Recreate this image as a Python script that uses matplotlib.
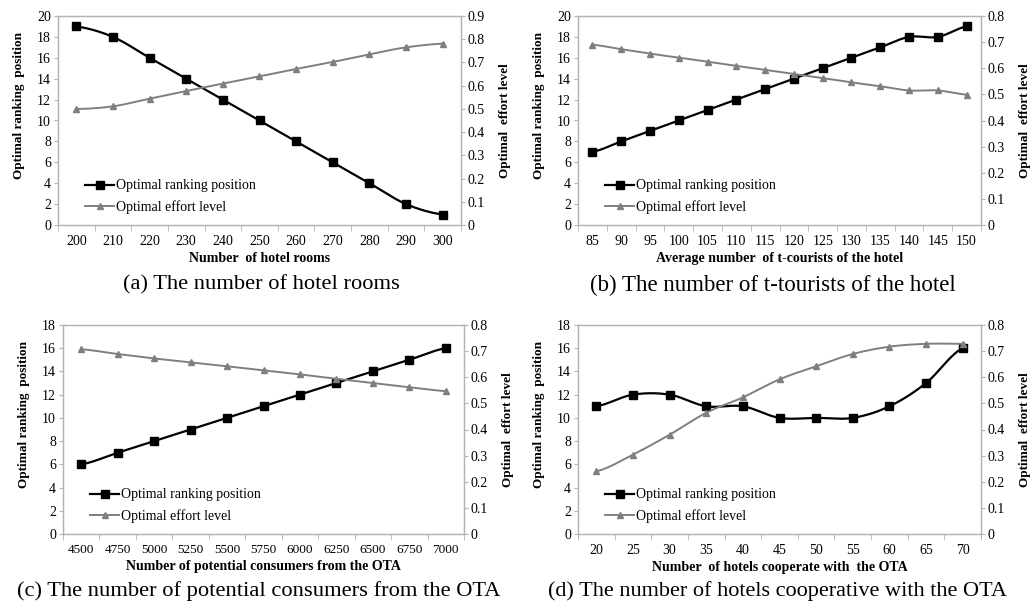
import numpy as np
import matplotlib
matplotlib.use("Agg")
import matplotlib.pyplot as plt
from matplotlib.ticker import FixedLocator, FuncFormatter

plt.rcParams['font.family'] = ['Liberation Serif', 'DejaVu Serif']

# ---- data ----
rooms = [200, 210, 220, 230, 240, 250, 260, 270, 280, 290, 300]
rooms_rank = [19, 18, 16, 14, 12, 10, 8, 6, 4, 2, 1]
rooms_effort = [0.499, 0.511, 0.544, 0.577, 0.609, 0.640, 0.672, 0.702, 0.735, 0.765, 0.781]

tourists = [85, 90, 95, 100, 105, 110, 115, 120, 125, 130, 135, 140, 145, 150]
tourists_rank = [7, 8, 9, 10, 11, 12, 13, 14, 15, 16, 17, 18, 18, 19]
tourists_effort = [0.690, 0.673, 0.656, 0.641, 0.625, 0.609, 0.594, 0.578, 0.562,
                   0.546, 0.531, 0.515, 0.515, 0.499]

consumers = [4500, 4750, 5000, 5250, 5500, 5750, 6000, 6250, 6500, 6750, 7000]
consumers_rank = [6, 7, 8, 9, 10, 11, 12, 13, 14, 15, 16]
consumers_effort = [0.707, 0.689, 0.672, 0.657, 0.642, 0.626, 0.611, 0.594, 0.578, 0.562, 0.547]

hotels = [20, 25, 30, 35, 40, 45, 50, 55, 60, 65, 70]
hotels_rank = [11, 12, 12, 11, 11, 10, 10, 10, 11, 13, 16]
hotels_effort = [0.240, 0.304, 0.380, 0.464, 0.523, 0.592, 0.642, 0.689, 0.717, 0.728, 0.728]

W, H = 1030, 606
BLACK = '#000000'
GRAY = '#7f7f7f'
SPINE = '#b4b4b4'


def smooth(y, n=20):
    # Catmull-Rom through the points (like Excel's smoothed line), index-based
    y = np.asarray(y, float)
    p = np.concatenate([[y[0]], y, [y[-1]]])
    xs, ys = [], []
    for i in range(len(y) - 1):
        p0, p1, p2, p3 = p[i], p[i + 1], p[i + 2], p[i + 3]
        t = np.linspace(0, 1, n, endpoint=False)
        yy = 0.5 * ((2 * p1) + (-p0 + p2) * t + (2 * p0 - 5 * p1 + 4 * p2 - p3) * t ** 2
                    + (-p0 + 3 * p1 - 3 * p2 + p3) * t ** 3)
        xs.append(i + t)
        ys.append(yy)
    xs.append([len(y) - 1])
    ys.append([y[-1]])
    return np.concatenate(xs), np.concatenate(ys)


def panel(box, cats, rank, effort, rmax, emax, xlabel, caption, cap_xy, cap_size, tick_size):
    l, t, r, b = box
    ax = fig.add_axes([l / W, 1 - b / H, (r - l) / W, (b - t) / H])
    ax2 = ax.twinx()
    idx = np.arange(len(cats))

    sx, sy = smooth(rank)
    ax.plot(sx, sy, color=BLACK, lw=1.6)
    ax.plot(idx, rank, 's', color=BLACK, ms=5.5)
    ex, ey = smooth(effort)
    ax2.plot(ex, ey, color=GRAY, lw=1.4)
    ax2.plot(idx, effort, '^', color=GRAY, ms=4.5)

    ax.set_xlim(-0.5, len(cats) - 0.5)
    ax.set_ylim(0, rmax)
    ax2.set_ylim(0, emax)
    ax.set_yticks(np.arange(0, rmax + 1, 2))
    ax2.set_yticks(np.round(np.arange(0, emax + 0.001, 0.1), 1))
    ax2.yaxis.set_major_formatter(FuncFormatter(lambda v, p: '0' if v == 0 else '%.1f' % v))

    ax.set_xticks(idx)
    ax.set_xticklabels([str(c) for c in cats])
    ax.xaxis.set_minor_locator(FixedLocator(np.arange(-0.5, len(cats), 1.0)))
    ax.tick_params(axis='x', which='major', length=0, pad=7, labelsize=tick_size)
    ax.tick_params(axis='x', which='minor', length=4, color=SPINE, direction='out')
    ax.tick_params(axis='y', length=3, color=SPINE, labelsize=10, pad=2)
    ax2.tick_params(axis='y', length=3, color=SPINE, labelsize=10, pad=2)

    for a in (ax, ax2):
        for s in a.spines.values():
            s.set_color(SPINE)
            s.set_linewidth(0.9)

    ax.set_xlabel(xlabel, fontsize=10, fontweight='bold', labelpad=3)
    ax.set_ylabel('Optimal ranking  position', fontsize=9.5, fontweight='bold', labelpad=9)
    ax.yaxis.label.set_y(0.57)
    ax2.set_ylabel('Optimal  effort level', fontsize=9.5, fontweight='bold', labelpad=10)

    h1 = plt.Line2D([], [], color=BLACK, lw=1.6, marker='s', ms=5.5)
    h2 = plt.Line2D([], [], color=GRAY, lw=1.4, marker='^', ms=4.5)
    ax2.legend([h1, h2], ['Optimal ranking position', 'Optimal effort level'],
               loc='lower left', bbox_to_anchor=(0.04, 0.0), frameon=False,
               fontsize=10, handlelength=2.1, handletextpad=0.1, labelspacing=0.55,
               borderpad=0.3)

    fig.text(cap_xy[0] / W, 1 - cap_xy[1] / H, caption, ha='center', va='center', fontsize=cap_size)
    return ax


fig = plt.figure(figsize=(W / 100, H / 100), dpi=100)

panel((58, 16, 461, 225), rooms, rooms_rank, rooms_effort, 20, 0.9,
      'Number  of hotel rooms', '(a) The number of hotel rooms', (261, 285), 16.2, 10)
panel((578, 16, 981, 225), tourists, tourists_rank, tourists_effort, 20, 0.8,
      'Average number  of t-courists of the hotel', '(b) The number of t-tourists of the hotel',
      (773, 285), 16.5, 10)
panel((63, 325, 464, 534), consumers, consumers_rank, consumers_effort, 18, 0.8,
      'Number of potential consumers from the OTA', '(c) The number of potential consumers from the OTA',
      (259, 591), 16.2, 9.5)
panel((578, 325, 981, 534), hotels, hotels_rank, hotels_effort, 18, 0.8,
      'Number  of hotels cooperate with  the OTA', '(d) The number of hotels cooperative with the OTA',
      (778, 591), 16, 10)

fig.savefig('out.png', dpi=100)
